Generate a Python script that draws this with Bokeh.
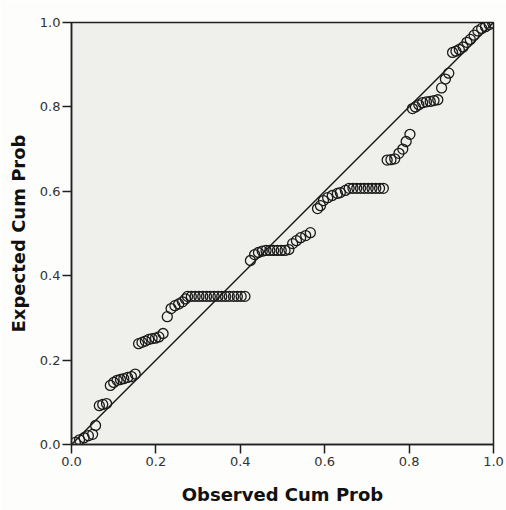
from bokeh.plotting import figure
from bokeh.models import Range1d, FixedTicker, PrintfTickFormatter, ColumnDataSource
from bokeh.embed import file_html
from bokeh.resources import INLINE

observed = [
    0.009, 0.019, 0.030, 0.040, 0.050, 0.057,
    0.066, 0.074, 0.083,
    0.092, 0.100, 0.108, 0.116, 0.124, 0.133, 0.142, 0.151,
    0.159, 0.167, 0.175, 0.183, 0.191, 0.199, 0.207, 0.217,
    0.227, 0.236, 0.245, 0.254, 0.263, 0.270,
    0.275, 0.284, 0.293, 0.302, 0.311, 0.320, 0.329, 0.338,
    0.347, 0.356, 0.365, 0.374, 0.384, 0.393, 0.402, 0.411,
    0.424, 0.434, 0.443, 0.452, 0.461, 0.470, 0.479, 0.488, 0.497, 0.506, 0.515,
    0.524, 0.533, 0.543, 0.555, 0.566,
    0.583, 0.590, 0.597, 0.607, 0.618, 0.630, 0.637, 0.649,
    0.658, 0.667, 0.676, 0.685, 0.694, 0.703, 0.712, 0.721, 0.730, 0.739,
    0.748, 0.757, 0.766, 0.776, 0.785, 0.793, 0.802,
    0.808, 0.815, 0.823, 0.832, 0.841, 0.850, 0.859, 0.868,
    0.877, 0.886, 0.894,
    0.903, 0.911, 0.919, 0.928, 0.937, 0.945, 0.954, 0.963, 0.972, 0.981, 0.990, 0.998,
]
expected = [
    0.005, 0.011, 0.016, 0.021, 0.024, 0.045,
    0.092, 0.095, 0.097,
    0.140, 0.147, 0.152, 0.154, 0.156, 0.159, 0.161, 0.167,
    0.239, 0.242, 0.245, 0.249, 0.251, 0.252, 0.255, 0.263,
    0.303, 0.322, 0.329, 0.333, 0.338, 0.345,
    0.351, 0.351, 0.351, 0.351, 0.351, 0.351, 0.351, 0.351,
    0.351, 0.351, 0.351, 0.351, 0.351, 0.351, 0.351, 0.351,
    0.436, 0.450, 0.455, 0.458, 0.460, 0.460, 0.460, 0.460, 0.460, 0.460, 0.462,
    0.476, 0.483, 0.490, 0.495, 0.502,
    0.559, 0.566, 0.578, 0.585, 0.590, 0.595, 0.597, 0.602,
    0.607, 0.607, 0.607, 0.607, 0.607, 0.607, 0.607, 0.607, 0.607, 0.607,
    0.674, 0.675, 0.677, 0.690, 0.700, 0.718, 0.735,
    0.796, 0.800, 0.805, 0.810, 0.812, 0.813, 0.815, 0.817,
    0.845, 0.866, 0.880,
    0.929, 0.932, 0.936, 0.942, 0.953, 0.960, 0.970, 0.980, 0.986, 0.990, 0.995, 0.999,
]
ref_line = [0.0, 1.0]
tick_values = [0.0, 0.2, 0.4, 0.6, 0.8, 1.0]

p = figure(width=506, height=510, output_backend="svg", toolbar_location=None,
           x_range=Range1d(0, 1), y_range=Range1d(0, 1),
           min_border_left=71, min_border_right=13, min_border_top=22, min_border_bottom=66)
p.background_fill_color = "#EFEFEB"
p.border_fill_color = "#FDFDFB"
p.outline_line_color = "#202020"
p.outline_line_width = 1.5
p.grid.visible = False

p.line(ref_line, ref_line, line_color="#1a1a1a", line_width=1.5)
src = ColumnDataSource(dict(x=observed, y=expected))
p.scatter("x", "y", source=src, size=10, fill_color=None, line_color="#1a1a1a", line_width=1.3)

for ax in (p.xaxis[0], p.yaxis[0]):
    ax.ticker = FixedTicker(ticks=tick_values)
    ax.formatter = PrintfTickFormatter(format="%.1f")
    ax.minor_tick_line_color = None
    ax.major_tick_out = 9
    ax.major_tick_in = 0
    ax.axis_line_color = "#202020"
    ax.axis_line_width = 1.5
    ax.major_tick_line_color = "#202020"
    ax.major_tick_line_width = 1.5
    ax.major_label_text_font = "DejaVu Sans"
    ax.major_label_text_font_size = "13px"
    ax.major_label_text_color = "#333333"
    ax.axis_label_text_font = "DejaVu Sans"
    ax.axis_label_text_font_style = "bold"
    ax.axis_label_text_font_size = "18px"
    ax.axis_label_text_color = "#111111"

p.xaxis.axis_label = "Observed Cum Prob"
p.yaxis.axis_label = "Expected Cum Prob"
p.xaxis.major_label_standoff = 3
p.yaxis.major_label_standoff = 2
p.xaxis.axis_label_standoff = 15
p.yaxis.axis_label_standoff = 8

open("out.html", "w").write(file_html(p, INLINE))
